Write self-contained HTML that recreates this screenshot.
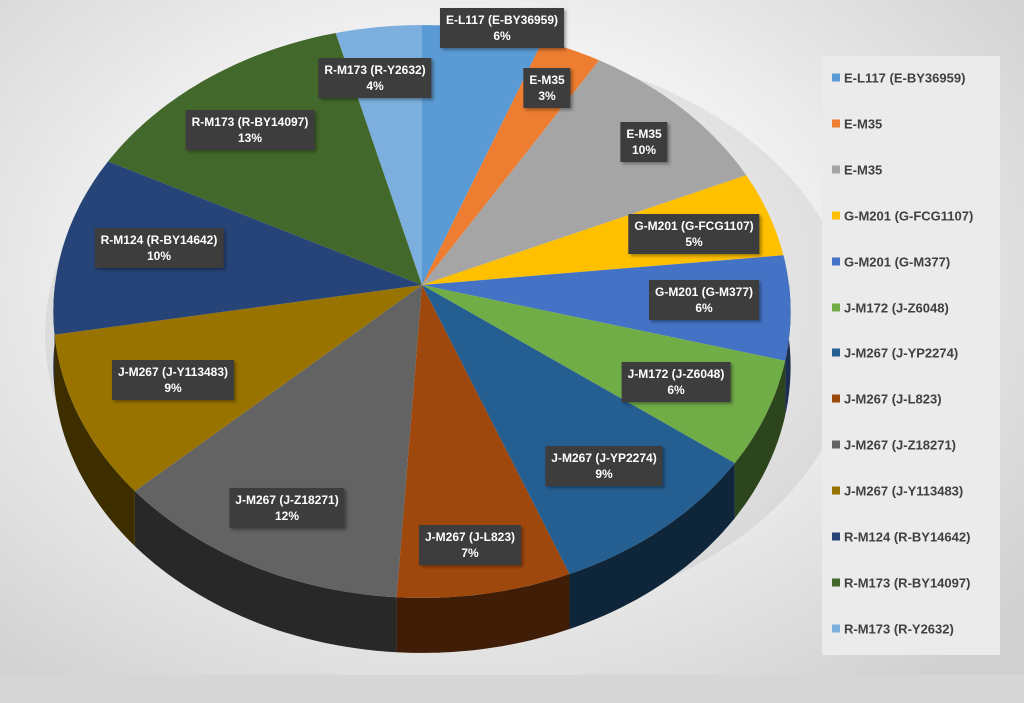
<!DOCTYPE html>
<html><head><meta charset="utf-8"><style>
html,body{margin:0;padding:0}
body{width:1024px;height:703px;overflow:hidden;position:relative;font-family:"Liberation Sans",sans-serif;
background:radial-gradient(ellipse 70% 75% at 45% 40%,#ffffff 0%,#f2f2f2 45%,#d0d0d0 100%);}
#band{position:absolute;left:0;top:675px;width:1024px;height:28px;background:#d6d6d6}
svg{position:absolute;left:0;top:0}
.lb{position:absolute;background:#3d3d3d;color:#fff;font-weight:bold;font-size:12px;line-height:16px;text-align:center;padding:4px 6px;box-shadow:2px 2px 3px rgba(0,0,0,.35);white-space:nowrap;transform:translate(-50%,-50%)}
#legend{position:absolute;left:822px;top:56px;width:178px;height:599px;background:#ebebeb}
.li{position:absolute;left:10px;font-size:13px;font-weight:bold;color:#404040;white-space:nowrap;transform:translateY(-50%)}
.li i{display:inline-block;width:8px;height:8px;margin-right:4px;vertical-align:1px}
</style></head><body>
<div id="band"></div>
<svg id="s" width="1024" height="703"></svg>
<div id="labels"></div>
<div id="legend"></div>
<script>
var d=[["E-L117 (E-BY36959)",6,"#5b9bd5"],["E-M35",3,"#ed7d31"],["E-M35",10,"#a5a5a5"],["G-M201 (G-FCG1107)",5,"#ffc000"],["G-M201 (G-M377)",6,"#4472c4"],["J-M172 (J-Z6048)",6,"#70ad47"],["J-M267 (J-YP2274)",9,"#255e91"],["J-M267 (J-L823)",7,"#9e480e"],["J-M267 (J-Z18271)",12,"#636363"],["J-M267 (J-Y113483)",9,"#997300"],["R-M124 (R-BY14642)",10,"#264478"],["R-M173 (R-BY14097)",13,"#43682b"],["R-M173 (R-Y2632)",4,"#7cafdd"]];
var cx=422,cy=285,W=367,A=284,b=0.0925,dep=55;
function pt(a){var X=Math.sin(a),Z=-Math.cos(a),den=1-b*Z;return [cx+W*X/den,cy+A*Z/den];}
function adj(c){return 2*Math.PI*(c-0.010*Math.sin(Math.PI*c));}
function dark(c,f){var n=parseInt(c.slice(1),16);var r=(n>>16)*f,g=((n>>8)&255)*f,bb=(n&255)*f;return "rgb("+[r,g,bb].map(Math.round).join(",")+")";}
var s="",t="",c=0;
d.forEach(function(e){var a0=adj(c);c+=e[1]/100;var a1=adj(c);
 var s0=Math.max(a0,Math.PI/2),s1=Math.min(a1,3*Math.PI/2);
 if(s1>s0){var n=30,top=[];for(var i=0;i<=n;i++){top.push(pt(s0+(s1-s0)*i/n));}
  var p="M"+top.map(function(q){return q[0].toFixed(1)+","+q[1].toFixed(1)}).join(" L");
  for(var i=n;i>=0;i--){p+=" L"+top[i][0].toFixed(1)+","+(top[i][1]+dep).toFixed(1);}
  s+='<path d="'+p+' Z" fill="'+dark(e[2],0.4)+'"/>';}
 var n=40,p="M"+cx+","+cy;for(var i=0;i<=n;i++){var q=pt(a0+(a1-a0)*i/n);p+=" L"+q[0].toFixed(1)+","+q[1].toFixed(1);}
 t+='<path d="'+p+' Z" fill="'+e[2]+'"/>';
});
document.getElementById("s").innerHTML='<ellipse cx="450" cy="335" rx="405" ry="290" fill="rgba(0,0,0,0.06)"/>'+s+t;
var pos=[[502,28],[547,88],[644,142],[694,234],[704,300],[676,382],[604,466],[470,545],[287,508],[173,380],[159,248],[250,130],[375,78]];
var h="";d.forEach(function(e,i){h+='<div class="lb" style="left:'+pos[i][0]+'px;top:'+pos[i][1]+'px">'+e[0]+'<br>'+e[1]+'%</div>';});
document.getElementById("labels").innerHTML=h;
var l="";d.forEach(function(e,i){l+='<div class="li" style="top:'+(78-56+i*45.9)+'px"><i style="background:'+e[2]+'"></i>'+e[0]+'</div>';});
document.getElementById("legend").innerHTML=l;
</script>
</body></html>
